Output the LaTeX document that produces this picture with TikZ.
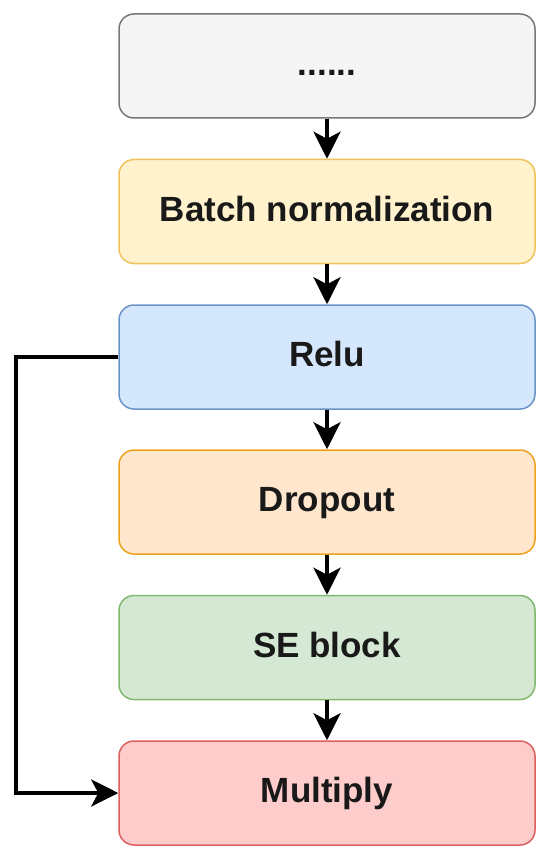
\documentclass[tikz,border=0pt]{standalone}
\usepackage{fontspec}
\setmainfont{Liberation Sans}
\usetikzlibrary{arrows.meta}
\definecolor{grayfill}{HTML}{F5F5F5}\definecolor{graydraw}{HTML}{777777}
\definecolor{yelfill}{HTML}{FFF2CC}\definecolor{yeldraw}{HTML}{EEC35A}
\definecolor{blufill}{HTML}{D5E7FC}\definecolor{bludraw}{HTML}{6C93C6}
\definecolor{orafill}{HTML}{FFE6CC}\definecolor{oradraw}{HTML}{EDA21A}
\definecolor{grefill}{HTML}{D5E8D4}\definecolor{gredraw}{HTML}{82B86E}
\definecolor{redfill}{HTML}{FFCCCC}\definecolor{reddraw}{HTML}{DD5E5E}
\tikzset{
  box/.style={rectangle, rounded corners=15pt, line width=1.5pt,
    minimum width=416pt, minimum height=104pt, inner sep=0pt,
    text height=27pt, text depth=8pt,
    font=\fontsize{35}{42}\selectfont\bfseries, text=black!90},
  arr/.style={line width=3.8pt, -{Stealth[length=27pt, width=27pt, inset=7pt]}, black}
}
\begin{document}
\begin{tikzpicture}[x=1pt, y=-1pt]
\useasboundingbox (0,0) rectangle (550,861);
\node[box, fill=grayfill, draw=graydraw] (dots) at (327,66) {......};
\node[box, fill=yelfill, draw=yeldraw] (bn) at (327,211.5) {Batch normalization};
\node[box, fill=blufill, draw=bludraw] (relu) at (327,357) {Relu};
\node[box, fill=orafill, draw=oradraw] (drop) at (327,502) {Dropout};
\node[box, fill=grefill, draw=gredraw] (se) at (327,647.5) {SE block};
\node[box, fill=redfill, draw=reddraw] (mult) at (327,793) {Multiply};
\coordinate (bend) at (16,357);
\draw[arr] (dots) -- (bn);
\draw[arr] (bn) -- (relu);
\draw[arr] (relu) -- (drop);
\draw[arr] (drop) -- (se);
\draw[arr] (se) -- (mult);
\draw[arr] (relu.west) -- (bend) |- (mult.west);
\end{tikzpicture}
\end{document}
